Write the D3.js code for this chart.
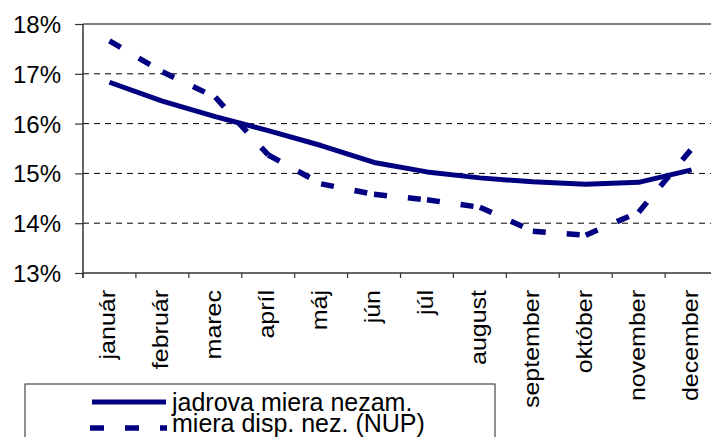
<!DOCTYPE html>
<html><head><meta charset="utf-8">
<script src="https://cdn.jsdelivr.net/npm/d3@7"></script>
<style>html,body{margin:0;padding:0;background:#fff;overflow:hidden}</style>
</head><body>
<svg id="c" width="711" height="437"></svg>
<script>
const months = ["január","február","marec","apríl","máj","jún","júl","august","september","október","november","december"];
const coreRate = [16.83,16.45,16.14,15.86,15.56,15.22,15.03,14.91,14.83,14.78,14.82,15.07];
const nupRate  = [17.66,17.04,16.53,15.37,14.79,14.58,14.47,14.32,13.84,13.76,14.22,15.49];
const yTicks = [13,14,15,16,17,18];
const seriesNames = ["jadrova miera nezam.","miera disp. nez. (NUP)"];

const svg = d3.select("#c");
const font = "Arial, 'Liberation Sans', sans-serif";
const x = d3.scaleBand().domain(months).range([83, 718]).padding(0);
const y = d3.scaleLinear().domain([13, 18]).range([273, 24]);
const navy = "#000080";

// gridlines
svg.append("g").selectAll("line").data(yTicks.filter(t => t > 13 && t < 18)).join("line")
  .attr("x1", 83).attr("x2", 711).attr("y1", d => y(d)).attr("y2", d => y(d))
  .attr("stroke", "#000").attr("stroke-width", 1).attr("stroke-dasharray", "6,5");
// top border
svg.append("line").attr("x1", 83).attr("x2", 711).attr("y1", y(18)).attr("y2", y(18))
  .attr("stroke", "#808080").attr("stroke-width", 2);

// y axis
const yAxis = d3.axisLeft(y).tickValues(yTicks).tickSize(8).tickFormat(d => d + "%");
const gy = svg.append("g").attr("transform", "translate(83,0)").call(yAxis);
gy.select(".domain").attr("stroke", "#333").attr("stroke-width", 1.5).attr("d", "M0," + y(18) + "V" + (y(13) + 5));
gy.selectAll(".tick line").attr("stroke", "#333").attr("stroke-width", 1.2);
gy.selectAll(".tick text").attr("x", -22).attr("dy", "0.35em")
  .style("font-family", font).style("font-size", "24px").attr("fill", "#000");

// x axis
const xAxis = d3.axisBottom(x).tickSize(0).tickFormat("");
const gx = svg.append("g").attr("transform", "translate(0," + y(13) + ")").call(xAxis);
gx.select(".domain").attr("stroke", "#333").attr("stroke-width", 1.5).attr("d", "M83,0H711");
gx.selectAll(".tick").remove();
const bounds = months.map(m => x(m));
svg.append("g").selectAll("line").data(bounds).join("line")
  .attr("x1", d => d).attr("x2", d => d).attr("y1", y(13)).attr("y2", y(13) + 5)
  .attr("stroke", "#333").attr("stroke-width", 1.2);

// month labels
svg.append("g").selectAll("text").data(months).join("text")
  .attr("transform", d => "translate(" + (x(d) + x.bandwidth() / 2 + 6) + ",290) rotate(-90) scale(1,0.86)")
  .attr("text-anchor", "end")
  .style("font-family", font).style("font-size", "25px").attr("fill", "#000")
  .text(d => d);

// solid line
const line = d3.line().x((d, i) => x(months[i]) + x.bandwidth() / 2).y(d => y(d));
svg.append("path").datum(coreRate).attr("d", line)
  .attr("fill", "none").attr("stroke", navy).attr("stroke-width", 5).attr("stroke-linejoin", "round");

// dashed line, dash pattern restarts at each segment
const segs = d3.pairs(nupRate.map((v, i) => [x(months[i]) + x.bandwidth() / 2, y(v)]));
svg.append("g").selectAll("path").data(segs).join("path")
  .attr("d", d => "M" + d[0][0] + "," + d[0][1] + "L" + d[1][0] + "," + d[1][1])
  .attr("fill", "none").attr("stroke", navy).attr("stroke-width", 5.5)
  .attr("stroke-dasharray", "13,21").attr("stroke-linecap", "butt");

// legend
const lg = svg.append("g");
lg.append("rect").attr("x", 25).attr("y", 384).attr("width", 470).attr("height", 80)
  .attr("fill", "#fff").attr("stroke", "#222").attr("stroke-width", 1);
lg.append("line").attr("x1", 92).attr("x2", 166).attr("y1", 402).attr("y2", 402)
  .attr("stroke", navy).attr("stroke-width", 5);
lg.append("line").attr("x1", 90).attr("x2", 167).attr("y1", 428).attr("y2", 428)
  .attr("stroke", navy).attr("stroke-width", 5.5).attr("stroke-dasharray", "14,21");
lg.selectAll("text").data(seriesNames).join("text")
  .attr("x", 172).attr("y", (d, i) => 411 + i * 21)
  .style("font-family", font).style("font-size", "25px").attr("fill", "#000")
  .text(d => d);
</script>
</body></html>
